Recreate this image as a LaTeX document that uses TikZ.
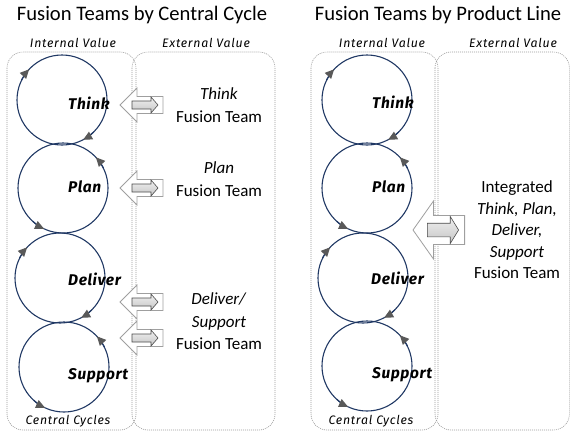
\documentclass[tikz,border=0pt]{standalone}
\usepackage{fontspec}
\setmainfont{Carlito}
\newfontfamily\handfont{Fira Sans}
\usetikzlibrary{arrows.meta}

\definecolor{navy}{HTML}{203864}
\definecolor{tipgray}{HTML}{595959}
\definecolor{boxgray}{HTML}{9A9A9A}

\tikzset{
  title/.style={font=\fontsize{20.6}{24}\selectfont},
  panel/.style={draw=boxgray, line width=0.6pt, dash pattern=on 1pt off 1pt, rounded corners=16pt},
  caption/.style={font=\handfont\itshape\addfontfeatures{LetterSpace=6}\fontsize{12.3}{14}\selectfont},
  cyclabel/.style={font=\handfont\bfseries\itshape\addfontfeatures{LetterSpace=4}\fontsize{15.5}{17}\selectfont, anchor=west, inner sep=0pt},
  team/.style={font=\fontsize{17}{22.5}\selectfont, align=center},
  cyc/.style={draw=navy, line width=1.1pt},
  cyctip/.tip={Triangle[length=9pt, width=8.5pt, color=tipgray]},
  hollow/.style={fill=white, draw=gray!75, line width=0.8pt},
  innerarrow/.style={draw=gray!60!black, top color=gray!12, bottom color=gray!45, line width=0.6pt},
  pics/teamarrow/.style={code={
    \draw[hollow] (0,0) -- (17,17) -- (17,8.5) -- (43,8.5) -- (43,-8.5)
                  -- (17,-8.5) -- (17,-17) -- cycle;
    \draw[innerarrow] (12,4) -- (31,4) -- (31,8) -- (38,0) -- (31,-8)
                  -- (31,-4) -- (12,-4) -- cycle;
  }}
}

% a cycle circle of radius 45pt round a named centre
\newcommand\cycring[1]{\draw[cyc] (#1) circle[radius=45pt];}
% a direction tip on that circle: the short arc runs from angle #2 to angle #3
\newcommand\cyctipat[3]{\draw[cyc,-{cyctip}] (#1) ++(#2:45pt) arc[start angle=#2, end angle=#3, radius=45pt];}
% clockwise and anticlockwise cycles with two tips each
\newcommand\cwcycle[1]{\cycring{#1}\cyctipat{#1}{154}{137}\cyctipat{#1}{-45}{-62}}
\newcommand\ccwcycle[1]{\cycring{#1}\cyctipat{#1}{26}{43}\cyctipat{#1}{-132}{-115}}

\begin{document}
\begin{tikzpicture}[x=1pt,y=1pt]
\useasboundingbox (0,0) rectangle (570,-432);

% ---------------- left panel: teams by central cycle ----------------
\node[title] (titleL) at (142,-15) {Fusion Teams by Central Cycle};
\draw[panel] (7,-52) rectangle (136,-430);
\draw[panel] (132,-52) rectangle (275,-430);
\node[caption] (intL) at (73,-43) {Internal Value};
\node[caption] (extL) at (206,-43) {External Value};
\node[caption] (ccL) at (68,-421) {Central Cycles};

\coordinate (thinkL) at (62,-100);
\coordinate (planL) at (63,-188);
\coordinate (deliverL) at (60,-278);
\coordinate (supportL) at (64,-367);
\cwcycle{thinkL}
\ccwcycle{planL}
\cwcycle{deliverL}
\ccwcycle{supportL}
\node[cyclabel] (thinkLabL) at (68,-103) {Think};
\node[cyclabel] (planLabL) at (68,-187) {Plan};
\node[cyclabel] (deliverLabL) at (68,-279) {Deliver};
\node[cyclabel] (supportLabL) at (68,-376) {Support};

\pic (arrThink) at (120,-105) {teamarrow};
\pic (arrPlan) at (120,-188) {teamarrow};
\pic (arrDeliver) at (120,-302) {teamarrow};
\pic (arrSupport) at (120,-338) {teamarrow};

\node[team] (teamThink) at (219,-105) {\textit{Think}\\Fusion Team};
\node[team] (teamPlan) at (219,-179) {\textit{Plan}\\Fusion Team};
\node[team] (teamDS) at (219,-321.5) {\textit{Deliver/}\\\textit{Support}\\Fusion Team};

% ---------------- right panel: teams by product line ----------------
\node[title] (titleR) at (438,-15) {Fusion Teams by Product Line};
\draw[panel] (311,-52) rectangle (438,-430);
\draw[panel] (435,-52) rectangle (569.4,-430);
\node[caption] (intR) at (382,-43) {Internal Value};
\node[caption] (extR) at (513,-43) {External Value};
\node[caption] (ccR) at (371,-421) {Central Cycles};

\coordinate (thinkR) at (367,-100);
\coordinate (planR) at (367,-188);
\coordinate (deliverR) at (363,-278);
\coordinate (supportR) at (367,-366);
\cwcycle{thinkR}
\ccwcycle{planR}
\cwcycle{deliverR}
\ccwcycle{supportR}
\node[cyclabel] (thinkLabR) at (372,-102) {Think};
\node[cyclabel] (planLabR) at (372,-187) {Plan};
\node[cyclabel] (deliverLabR) at (371,-278) {Deliver};
\node[cyclabel] (supportLabR) at (372,-375) {Support};

\pic[xscale=1.2, yscale=1.7] (arrAll) at (413,-230) {teamarrow};
\node[team, font=\fontsize{17}{21.5}\selectfont] (teamAll) at (517,-230)
  {Integrated\\\textit{Think, Plan,}\\\textit{Deliver,}\\\textit{Support}\\Fusion Team};
\end{tikzpicture}
\end{document}
